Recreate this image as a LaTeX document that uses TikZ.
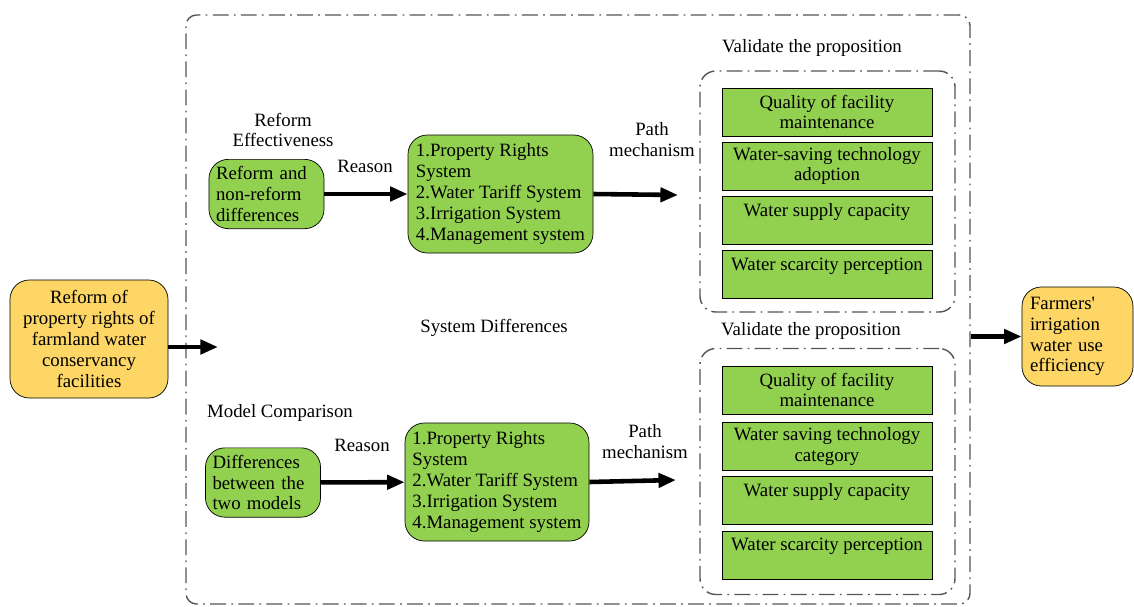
\documentclass[tikz,border=0pt]{standalone}
\usepackage{fontspec}
\setmainfont{Liberation Serif}
\usetikzlibrary{arrows.meta}
\definecolor{boxgreen}{RGB}{146,208,80}
\definecolor{boxyellow}{RGB}{253,214,102}
\definecolor{framegray}{RGB}{85,85,85}

\begin{document}
\begin{tikzpicture}[x=0.02cm, y=-0.02cm,
  font=\fontsize{10.7}{11.9}\selectfont,
  plain/.style={align=center, inner sep=1pt},
  bigarrow/.style={line width=2.6pt, -{Triangle[length=10pt, width=8pt]}},
  outerframe/.style={draw=framegray, line width=0.8pt, dash pattern=on 9pt off 3pt on 1pt off 3pt, rounded corners=6pt},
  innerframe/.style={draw=framegray, line width=0.8pt, dash pattern=on 9pt off 3pt on 1pt off 3pt, rounded corners=9pt},
  greenround/.style={draw, fill=boxgreen, rounded corners=11pt, align=left, inner sep=4pt},
  yellowround/.style={draw, fill=boxyellow, rounded corners=11pt, inner sep=4pt},
  item/.style={draw, fill=boxgreen, minimum width=210*\px, minimum height=48*\px, align=center, inner sep=1pt}]
% One unit of the picture is one pixel of the reference
\def\px{0.02cm}
\useasboundingbox (0,0) rectangle (1134,606);

% Outer frame
\node[outerframe, minimum width=784*\px, minimum height=589*\px] (outer) at (578,309.5) {};

% Input and output
\node[yellowround, minimum width=158*\px, minimum height=118*\px, align=center] (reform) at (89,339) {Reform of\\property rights of\\farmland water\\conservancy\\facilities};
\coordinate (in) at (218,347);
\draw[bigarrow] (reform.east |- in) -- (in);
\node[yellowround, minimum width=111*\px, minimum height=99*\px, align=left, text width=95*\px] (farmers) at (1077.5,336.5) {Farmers\textquotesingle\\irrigation\\water use\\efficiency};
\draw[bigarrow] (outer.east |- farmers) -- (farmers);

\node[plain] (sysdiff) at (494,328) {System Differences};

% Upper branch
\node[plain] (effect) at (283,130) {Reform\\Effectiveness};
\node[greenround, minimum width=115*\px, minimum height=68*\px, text width=101*\px] (diff1) at (266.5,194) {Reform and\\non-reform\\differences};
\node[greenround, minimum width=185*\px, minimum height=118*\px] (sys1) at (500.5,194) {1.Property Rights\\System\\2.Water Tariff System\\3.Irrigation System\\4.Management system};
\node[plain] (reason1) at (365,166) {Reason};
\draw[bigarrow] (diff1) -- (sys1);
\coordinate (path1) at (678,195);
\node[plain] (mech1) at (652,140) {Path\\mechanism};
\draw[bigarrow] (sys1.east) -- (path1);
\node[plain] (valid1) at (812,48) {Validate the proposition};
\node[innerframe, minimum width=255*\px, minimum height=241*\px] (group1) at (827.5,191.5) {};
\node[item] (upper1) at (827,112) {Quality of facility\\maintenance};
\node[item] (upper2) at (827,166) {Water-saving technology\\adoption};
\node[item] (upper3) at (827,220) {Water supply capacity\\\mbox{}};
\node[item] (upper4) at (827,274.5) {Water scarcity perception\\\mbox{}};

% Lower branch
\node[plain] (compare) at (280,413) {Model Comparison};
\node[greenround, minimum width=115*\px, minimum height=67*\px, text width=101*\px] (diff2) at (263,482.5) {Differences\\between the\\two models};
\node[greenround, minimum width=184*\px, minimum height=118*\px] (sys2) at (497,482) {1.Property Rights\\System\\2.Water Tariff System\\3.Irrigation System\\4.Management system};
\node[plain] (reason2) at (362,445) {Reason};
\draw[bigarrow] (diff2) -- (sys2);
\coordinate (path2) at (676,480);
\node[plain] (mech2) at (645,442) {Path\\mechanism};
\draw[bigarrow] (sys2.east) -- (path2);
\node[plain] (valid2) at (811,331) {Validate the proposition};
\node[innerframe, minimum width=255*\px, minimum height=246*\px] (group2) at (827.5,471.5) {};
\node[item] (lower1) at (827,390) {Quality of facility\\maintenance};
\node[item] (lower2) at (827,446.5) {Water saving technology\\category};
\node[item] (lower3) at (827,500.5) {Water supply capacity\\\mbox{}};
\node[item] (lower4) at (827,555) {Water scarcity perception\\\mbox{}};
\end{tikzpicture}
\end{document}
